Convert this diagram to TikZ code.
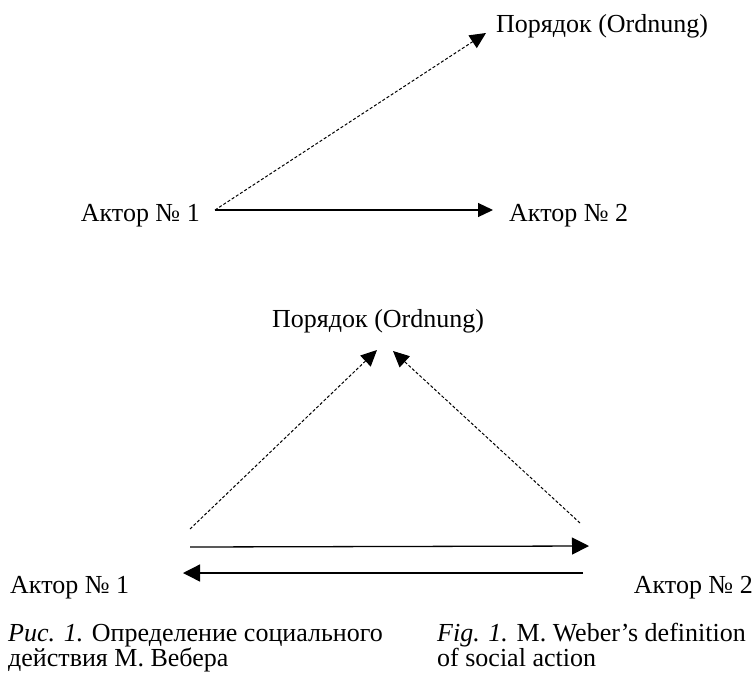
\documentclass[tikz,border=0pt]{standalone}
\usepackage{fontspec}
\setmainfont{Liberation Serif}
\usetikzlibrary{arrows.meta}
\tikzset{
  lbl/.style={inner sep=0pt, font=\fontsize{26}{27}\selectfont},
  solidarr/.style={line width=1.2pt, -{Triangle[length=15pt,width=14pt]}},
  bigarr/.style={line width=1.3pt, -{Triangle[length=17pt,width=17pt]}},
  dasharr/.style={line width=1pt, dash pattern=on 3pt off 2pt, -{Triangle[length=16pt,width=15pt]}},
}
\begin{document}
\begin{tikzpicture}[x=1pt,y=-1pt]
\useasboundingbox (0,0) rectangle (753,673);
% top diagram
\node[lbl, anchor=base east] (a1t) at (200,221) {Актор № 1};
\node[lbl, anchor=base west] (a2t) at (509,221) {Актор № 2};
\node[lbl, anchor=base west] (ordt) at (496,32) {Порядок (Ordnung)};
\coordinate (t0) at (215,210);
\coordinate (t1) at (493,210);
\coordinate (t2) at (486,33);
\draw[solidarr] (t0) -- (t1);
\draw[dasharr] (t0) -- (t2);
% bottom diagram
\node[lbl, anchor=base west] (ordb) at (272,327) {Порядок (Ordnung)};
\node[lbl, anchor=base west] (a1b) at (10,593) {Актор № 1};
\node[lbl, anchor=base east] (a2b) at (753,593) {Актор № 2};
\coordinate (l0) at (190,529);
\coordinate (l1) at (377,350);
\coordinate (r0) at (580,523);
\coordinate (r1) at (393,351);
\coordinate (u0) at (190,547);
\coordinate (u1) at (589,546);
\coordinate (w0) at (583,573);
\coordinate (w1) at (183,573);
\draw[dasharr] (l0) -- (l1);
\draw[dasharr] (r0) -- (r1);
\draw[bigarr] (u0) -- (u1);
\draw[bigarr] (w0) -- (w1);
% captions
\node[lbl, anchor=base west] (c1a) at (8,641) {\textit{Рис. 1.} Определение социального};
\node[lbl, anchor=base west] (c1b) at (8,666) {действия М. Вебера};
\node[lbl, anchor=base west] (c2a) at (437,641) {\textit{Fig. 1.} M. Weber’s definition};
\node[lbl, anchor=base west] (c2b) at (437,666) {of social action};
\end{tikzpicture}
\end{document}
